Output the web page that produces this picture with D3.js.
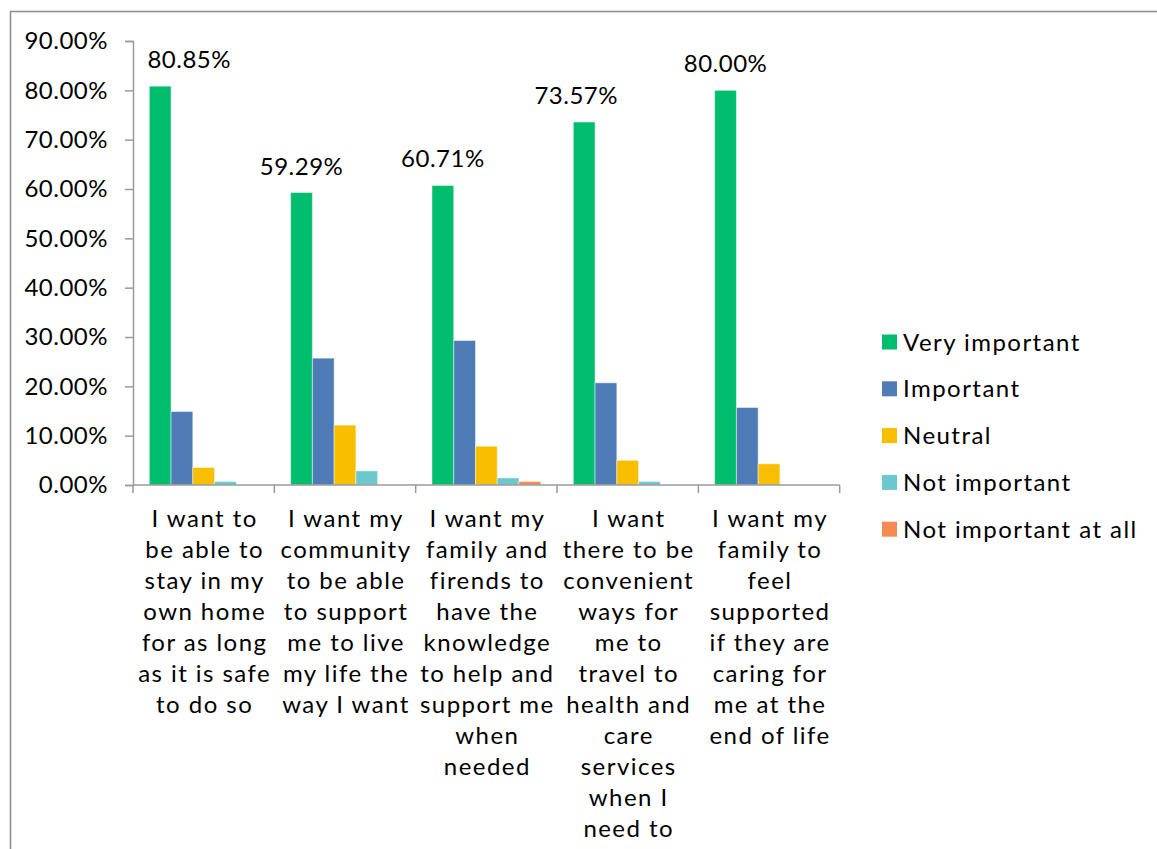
<!DOCTYPE html>
<html>
<head>
<meta charset="utf-8">
<script src="https://cdn.jsdelivr.net/npm/d3@7"></script>
<style>
  html, body { margin: 0; padding: 0; background: #fff; }
  svg { display: block; }
  text { font-family: Lato, "Open Sans", sans-serif; fill: #000; }
  .words { letter-spacing: 1.45px; }
  .nums { letter-spacing: 0.5px; }
</style>
</head>
<body>
<svg id="chart" width="1157" height="849"></svg>
<script>
// Survey statements (line breaks as laid out under the axis)
const categories = [
  "I want to\nbe able to\nstay in my\nown home\nfor as long\nas it is safe\nto do so",
  "I want my\ncommunity\nto be able\nto support\nme to live\nmy life the\nway I want",
  "I want my\nfamily and\nfirends to\nhave the\nknowledge\nto help and\nsupport me\nwhen\nneeded",
  "I want\nthere to be\nconvenient\nways for\nme to\ntravel to\nhealth and\ncare\nservices\nwhen I\nneed to",
  "I want my\nfamily to\nfeel\nsupported\nif they are\ncaring for\nme at the\nend of life"
];

const seriesNames = ["Very important", "Important", "Neutral", "Not important", "Not important at all"];
const seriesColors = ["#00BE6E", "#4F7CB6", "#FABE00", "#6CC8CC", "#F78A52"];

// Share of respondents per statement (%)
const veryImportant      = [80.85, 59.29, 60.71, 73.57, 80.00];
const important          = [14.89, 25.71, 29.29, 20.71, 15.71];
const neutral            = [3.55, 12.14, 7.86, 5.00, 4.29];
const notImportant       = [0.71, 2.86, 1.43, 0.71, 0.00];
const notImportantAtAll  = [0.00, 0.00, 0.71, 0.00, 0.00];

const yTicks = [0, 10, 20, 30, 40, 50, 60, 70, 80, 90];

const series = [veryImportant, important, neutral, notImportant, notImportantAtAll];

// Horizontal nudges (px) for the value labels, keeping them clear of the axis
const labelNudge = [29, 0, 0, -8, 0];

const svg = d3.select("#chart");

// Outer chart frame
svg.append("path")
  .attr("d", "M10.5,849 V11.5 H1157")
  .attr("fill", "none")
  .attr("stroke", "#8c8c8c")
  .attr("stroke-width", 1.5);

const plot = { left: 133, right: 839.7, top: 41, bottom: 485 };

const x0 = d3.scaleBand()
  .domain(d3.range(categories.length))
  .range([plot.left, plot.right])
  .paddingInner(0)
  .paddingOuter(0);

// Five bars per group with a 150% gap shared on both sides
const step = x0.bandwidth();
const barW = step / (series.length + 1.5);
const x1 = d3.scaleBand()
  .domain(d3.range(series.length))
  .range([barW * 0.75, barW * 0.75 + barW * series.length])
  .padding(0);

const y = d3.scaleLinear().domain([0, 90]).range([plot.bottom, plot.top]);

// Y axis
const yAxis = d3.axisLeft(y)
  .tickValues(yTicks)
  .tickSize(8)
  .tickPadding(17)
  .tickFormat(d => d.toFixed(2) + "%");

const gy = svg.append("g")
  .attr("transform", `translate(${plot.left},0)`)
  .call(yAxis);
gy.select(".domain").attr("stroke", "#9a9a9a").attr("stroke-width", 1.5);
gy.selectAll(".tick line").attr("stroke", "#9a9a9a").attr("stroke-width", 1.5);
gy.selectAll(".tick text")
  .attr("class", "nums")
  .attr("font-size", 24)
  .attr("font-family", "Lato, sans-serif")
  .attr("fill", "#000");

// Bars
const groups = svg.append("g").selectAll("g")
  .data(categories.map((c, i) => i))
  .join("g")
  .attr("transform", i => `translate(${x0(i)},0)`);

groups.selectAll("rect")
  .data(i => series.map((s, k) => ({ k, v: s[i] })))
  .join("rect")
  .attr("x", d => x1(d.k))
  .attr("width", x1.bandwidth())
  .attr("y", d => y(d.v))
  .attr("height", d => y(0) - y(d.v))
  .attr("fill", d => seriesColors[d.k])
  .attr("stroke", "rgba(255,255,255,0.45)")
  .attr("stroke-width", 1);

// Value labels on the "Very important" bars
groups.append("text")
  .attr("class", "nums")
  .attr("x", i => x1(0) + x1.bandwidth() / 2 + labelNudge[i])
  .attr("y", i => y(veryImportant[i]) - 18)
  .attr("text-anchor", "middle")
  .attr("font-size", 24)
  .text(i => veryImportant[i].toFixed(2) + "%");

// X axis line with ticks on the group boundaries
const gx = svg.append("g");
gx.append("line")
  .attr("x1", plot.left).attr("x2", plot.right)
  .attr("y1", plot.bottom).attr("y2", plot.bottom)
  .attr("stroke", "#9a9a9a").attr("stroke-width", 1.5);
gx.selectAll("line.tick")
  .data(d3.range(categories.length + 1))
  .join("line")
  .attr("class", "tick")
  .attr("x1", i => plot.left + i * step).attr("x2", i => plot.left + i * step)
  .attr("y1", plot.bottom).attr("y2", plot.bottom + 8)
  .attr("stroke", "#9a9a9a").attr("stroke-width", 1.5);

// Category labels
const catText = svg.append("g").selectAll("text")
  .data(categories)
  .join("text")
  .attr("class", "words")
  .attr("text-anchor", "middle")
  .attr("font-size", 24)
  .attr("transform", (d, i) => `translate(${x0(i) + step / 2 + 1},527)`);
catText.selectAll("tspan")
  .data(d => d.split("\n"))
  .join("tspan")
  .attr("x", 0)
  .attr("y", (d, j) => j * 31)
  .text(d => d);

// Legend
const legend = svg.append("g").attr("transform", "translate(882,342)");
const li = legend.selectAll("g")
  .data(seriesNames)
  .join("g")
  .attr("transform", (d, i) => `translate(0,${i * 46.8})`);
li.append("rect")
  .attr("x", 0).attr("y", -7.5)
  .attr("width", 15).attr("height", 15)
  .attr("fill", (d, i) => seriesColors[i]);
li.append("text")
  .attr("class", "words")
  .attr("x", 21).attr("y", 8.5)
  .attr("font-size", 24)
  .text(d => d);
</script>
</body>
</html>
